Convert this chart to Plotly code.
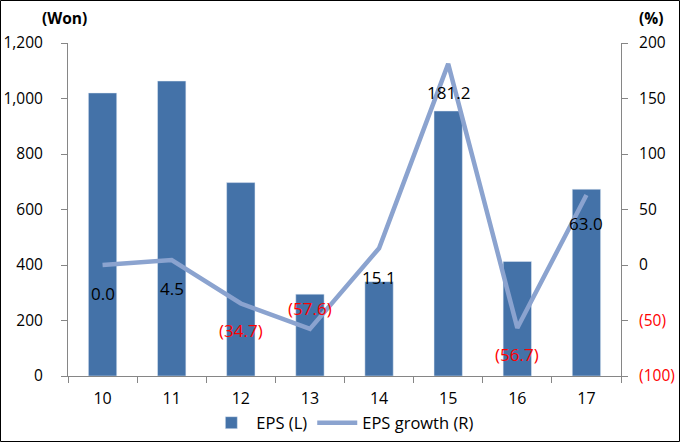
import plotly.graph_objects as go

years = ["10", "11", "12", "13", "14", "15", "16", "17"]
eps = [1020, 1063, 697, 295, 340, 955, 413, 673]
eps_growth = [0.0, 4.5, -34.7, -57.6, 15.1, 181.2, -56.7, 63.0]
left_ticks = [0, 200, 400, 600, 800, 1000, 1200]
right_ticks = [-100, -50, 0, 50, 100, 150, 200]

label_shift = [-28, -28, -27, 20, -29, -29, -27, -28]

FONT = "Open Sans"
BAR_C = "#4472A8"
LINE_C = "#8BA3CF"
RED = "#FF0000"
AXIS_C = "#868686"


def fmt(v):
    return f"({abs(v):.1f})" if v < 0 else f"{v:.1f}"


def fmt_tick(v, comma=False):
    s = f"{abs(v):,}" if comma else f"{abs(v)}"
    if v < 0:
        return f"<span style='color:{RED}'>({s})</span>"
    return s


fig = go.Figure()
fig.add_trace(go.Bar(x=years, y=eps, name="EPS (L)", marker_color=BAR_C,
                     width=0.41, yaxis="y"))
fig.add_trace(go.Scatter(x=years, y=eps_growth, name="EPS growth (R)",
                         mode="lines", line=dict(color=LINE_C, width=4.5),
                         yaxis="y2"))

for i, (v, s) in enumerate(zip(eps_growth, label_shift)):
    fig.add_annotation(x=i, y=v, yref="y2", xref="x", text=fmt(v),
                       showarrow=False, yshift=s,
                       font=dict(family=FONT, size=17,
                                 color=RED if v < 0 else "#000000"))

fig.update_layout(
    width=680, height=442,
    margin=dict(l=68, r=59, t=43, b=66, autoexpand=False),
    paper_bgcolor="white", plot_bgcolor="white",
    font=dict(family=FONT, size=15, color="#000000"),
    showlegend=True,
    legend=dict(orientation="h", x=0.497, xanchor="center", y=-0.141,
                yanchor="middle", font=dict(size=16.5), itemwidth=40,
                bgcolor="rgba(0,0,0,0)"),
    bargap=0.5,
    xaxis=dict(type="category", range=[-0.5, 7.5], autorange=False,
               automargin=False, tickfont=dict(size=16),
               showline=True, linecolor=AXIS_C, linewidth=1,
               ticks="outside", tickson="boundaries", ticklen=6,
               tickcolor=AXIS_C, showgrid=False, zeroline=False,
               ticklabelstandoff=8),
    yaxis=dict(range=[0, 1200], tickvals=left_ticks, automargin=False,
               ticktext=[fmt_tick(v, True) for v in left_ticks],
               tickfont=dict(size=15.5),
               showline=True, linecolor=AXIS_C, ticks="outside", ticklen=6,
               tickcolor=AXIS_C, showgrid=False, zeroline=False,
               ticklabelstandoff=15),
    yaxis2=dict(range=[-100, 200], tickvals=right_ticks, automargin=False,
                ticktext=[fmt_tick(v) for v in right_ticks],
                tickfont=dict(size=15.5),
                overlaying="y", side="right", showline=True,
                linecolor=AXIS_C, ticks="outside", ticklen=6,
                tickcolor=AXIS_C, showgrid=False, zeroline=False,
                ticklabelstandoff=8),
)

fig.add_annotation(text="<b>(Won)</b>", xref="paper", yref="paper",
                   x=(64 - 68) / 553, y=(376 - 18) / 333, showarrow=False,
                   xanchor="center", yanchor="middle",
                   font=dict(family=FONT, size=15.5))
fig.add_annotation(text="<b>(%)</b>", xref="paper", yref="paper",
                   x=(651 - 68) / 553, y=(376 - 18) / 333, showarrow=False,
                   xanchor="center", yanchor="middle",
                   font=dict(family=FONT, size=15.5))

fig.add_shape(type="rect", xref="paper", yref="paper",
              x0=(0.5 - 68) / 553, x1=(679.5 - 68) / 553,
              y0=(376 - 441.5) / 333, y1=(376 - 0.5) / 333,
              line=dict(color="#000000", width=1))

fig.write_html("out.html", config={"displayModeBar": False},
               post_script="document.body.style.margin='0';"
                           "document.body.style.overflow='hidden';")
